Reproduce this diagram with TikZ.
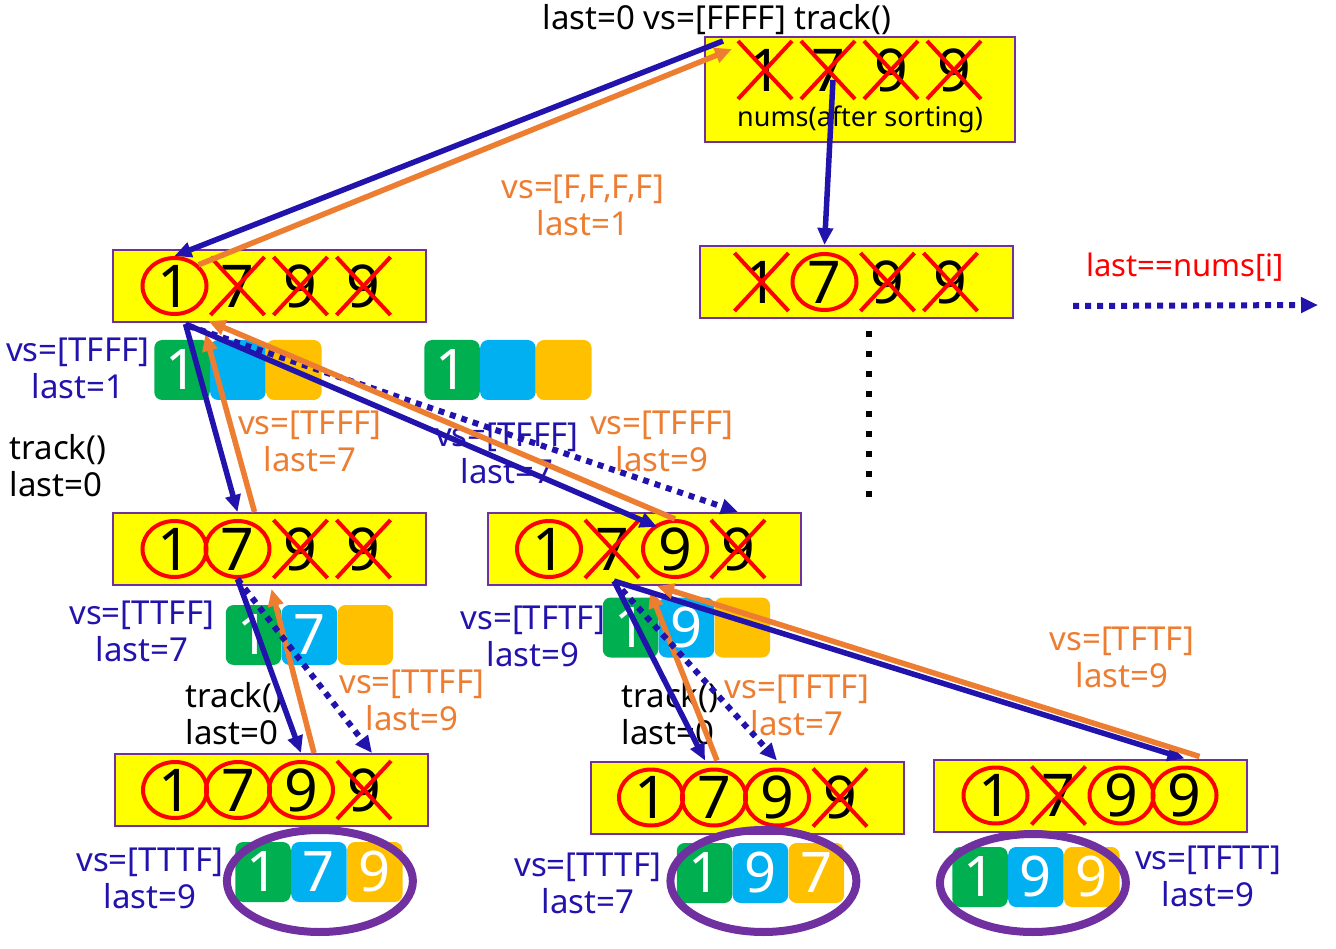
\documentclass[tikz,border=0pt]{standalone}
\usepackage{fontspec}
\setmainfont{Noto Sans}
\usepackage{tikz}
\usetikzlibrary{
  arrows.meta,
  shapes.geometric,
  shapes.misc,
  positioning,
  calc
}
\definecolor{btBlue}{HTML}{2313AD}
\definecolor{btOrange}{HTML}{ED7D31}
\definecolor{btPurple}{HTML}{7030A0}
\definecolor{btRed}{HTML}{FF0000}
\definecolor{btYellow}{HTML}{FFFF00}
\definecolor{btGreen}{HTML}{00B050}
\definecolor{btSky}{HTML}{00B0F0}
\definecolor{btGold}{HTML}{FFC000}
\tikzset{
  numbox/.style={
    draw=btPurple, fill=btYellow, line width=2pt, inner sep=0pt,
    minimum width=313pt, minimum height=72pt
  },
  digit/.style={inner sep=0pt, font=\fontsize{59}{60}\selectfont},
  marko/.style={draw=btRed, ellipse, line width=4pt, inner sep=0pt, minimum width=64pt, minimum height=56pt},
  markx/.style={draw=btRed, cross out, line width=4pt, inner sep=0pt, minimum width=50pt, minimum height=54pt},
  tile/.style={
    rounded corners=8pt, inner sep=0pt, minimum width=55.5pt, minimum height=60pt,
    text=white, font=\fontsize{56}{56}\selectfont\bfseries
  },
  resultring/.style={draw=btPurple, ellipse, line width=8pt, minimum width=186pt, minimum height=102pt},
  lbl/.style={font=\fontsize{33}{37}\selectfont, align=center, inner sep=0pt},
  calllbl/.style={lbl, text=btBlue},
  backlbl/.style={lbl, text=btOrange},
  callarrow/.style={-{Triangle[length=17pt,width=15pt]}, line width=5.5pt, btBlue},
  backarrow/.style={-{Triangle[length=17pt,width=15pt]}, line width=5.5pt, btOrange},
  skiparrow/.style={-{Triangle[length=17pt,width=15pt]}, line width=6pt, btBlue, dash pattern=on 6pt off 6pt},
  moredots/.style={line width=6pt, black, dash pattern=on 6pt off 14pt}
}

\begin{document}
\begin{tikzpicture}[x=1pt, y=-1pt]
  \useasboundingbox (0,0) rectangle (1336,949);

  \node[numbox, minimum width=310pt, minimum height=105pt] (top) at (860,89.5) {};
  \foreach \d/\m [count=\i from 0] in {1/x,7/x,9/x,9/x} {
    \node[digit] (top-\i) at ($(top.center)+({-95+63*\i},-19.5)$) {\d};
    \node[mark\m] (top-\i-mk) at (top-\i) {};
  }
  \node[lbl, font=\fontsize{27}{30}\selectfont] (topcap) at ($(top.center)+(0,29.5)$) {nums(after sorting)};

  \node[numbox] (l1) at (269.5,286) {};
  \foreach \d/\m [count=\i from 0] in {1/o,7/x,9/x,9/x} {
    \node[digit] (l1-\i) at ($(l1.center)+({-95+63*\i},0)$) {\d};
    \node[mark\m] (l1-\i-mk) at (l1-\i) {};
  }
  \node[numbox] (r1) at (856.5,282) {};
  \foreach \d/\m [count=\i from 0] in {1/x,7/o,9/x,9/x} {
    \node[digit] (r1-\i) at ($(r1.center)+({-95+63*\i},0)$) {\d};
    \node[mark\m] (r1-\i-mk) at (r1-\i) {};
  }
  \node[numbox] (l2) at (269.5,549) {};
  \foreach \d/\m [count=\i from 0] in {1/o,7/o,9/x,9/x} {
    \node[digit] (l2-\i) at ($(l2.center)+({-95+63*\i},0)$) {\d};
    \node[mark\m] (l2-\i-mk) at (l2-\i) {};
  }
  \node[numbox] (m2) at (644,549) {};
  \foreach \d/\m [count=\i from 0] in {1/o,7/x,9/o,9/x} {
    \node[digit] (m2-\i) at ($(m2.center)+({-95+63*\i},0)$) {\d};
    \node[mark\m] (m2-\i-mk) at (m2-\i) {};
  }
  \node[numbox] (l3) at (271,790) {};
  \foreach \d/\m [count=\i from 0] in {1/o,7/o,9/o,9/x} {
    \node[digit] (l3-\i) at ($(l3.center)+({-96+63*\i},0)$) {\d};
    \node[mark\m] (l3-\i-mk) at (l3-\i) {};
  }
  \node[numbox] (m3) at (747,797.5) {};
  \foreach \d/\m [count=\i from 0] in {1/o,7/o,9/o,9/x} {
    \node[digit] (m3-\i) at ($(m3.center)+({-96+63*\i},0)$) {\d};
    \node[mark\m] (m3-\i-mk) at (m3-\i) {};
  }
  \node[numbox] (r3) at (1090.5,795.5) {};
  \foreach \d/\m [count=\i from 0] in {1/o,7/x,9/o,9/o} {
    \node[digit] (r3-\i) at ($(r3.center)+({-95+63*\i},0)$) {\d};
    \node[mark\m] (r3-\i-mk) at (r3-\i) {};
  }

  \node[tile, fill=btGreen] (ta1) at (182,370) {1};
  \node[tile, fill=btSky, right=0pt of ta1] (ta2) {};
  \node[tile, fill=btGold, right=0pt of ta2] (ta3) {};
  \node[tile, fill=btGreen] (tb1) at (452,370) {1};
  \node[tile, fill=btSky, right=0pt of tb1] (tb2) {};
  \node[tile, fill=btGold, right=0pt of tb2] (tb3) {};
  \node[tile, fill=btGreen] (tc1) at (253.5,635) {1};
  \node[tile, fill=btSky, right=0pt of tc1] (tc2) {7};
  \node[tile, fill=btGold, right=0pt of tc2] (tc3) {};
  \node[tile, fill=btGreen] (td1) at (630.5,627.5) {1};
  \node[tile, fill=btSky, right=0pt of td1] (td2) {9};
  \node[tile, fill=btGold, right=0pt of td2] (td3) {};
  \node[tile, fill=btGreen] (te1) at (263,872) {1};
  \node[tile, fill=btSky, right=0pt of te1] (te2) {7};
  \node[tile, fill=btGold, right=0pt of te2] (te3) {9};
  \node[tile, fill=btGreen] (tf1) at (704.5,873) {1};
  \node[tile, fill=btSky, right=0pt of tf1] (tf2) {9};
  \node[tile, fill=btGold, right=0pt of tf2] (tf3) {7};
  \node[tile, fill=btGreen] (tg1) at (980,877) {1};
  \node[tile, fill=btSky, right=0pt of tg1] (tg2) {9};
  \node[tile, fill=btGold, right=0pt of tg2] (tg3) {9};

  \node[resultring] (ringE) at ($(te2)+(1,9)$) {};
  \node[resultring] (ringF) at ($(tf2)+(3,8)$) {};
  \node[resultring, minimum height=98pt] (ringG) at ($(tg2)+(-3,6)$) {};

  \node[lbl] (trackTop) at (717,20) {last=0 vs=[FFFF] track()};
  \node[backlbl] (vsRoot) at (583,205) {vs=[F,F,F,F]\\last=1};
  \node[lbl, text=btRed, font=\fontsize{31}{35}\selectfont] (legend) at (1185,267) {last==nums[i]};
  \node[calllbl] (vsL1) at (78,368) {vs=[TFFF]\\last=1};
  \node[lbl, align=left] (trL1) at (58,466) {track()\\last=0};
  \node[backlbl] (vsL2back) at (310,441) {vs=[TFFF]\\last=7};
  \node[calllbl] (vsM2call) at (507,453) {vs=[TFFF]\\last=7};
  \node[backlbl] (vsM2back) at (662,441) {vs=[TFFF]\\last=9};
  \node[calllbl] (vsL2) at (142,631) {vs=[TTFF]\\last=7};
  \node[lbl, align=left] (trL2) at (234,714) {track()\\last=0};
  \node[backlbl] (vsL3back) at (412,700) {vs=[TTFF]\\last=9};
  \node[calllbl] (vsM2) at (533,636) {vs=[TFTF]\\last=9};
  \node[lbl, align=left] (trM2) at (670,714) {track()\\last=0};
  \node[backlbl] (vsM3back) at (797,705) {vs=[TFTF]\\last=7};
  \node[backlbl] (vsR3back) at (1122,657) {vs=[TFTF]\\last=9};
  \node[calllbl] (vsL3) at (150,878) {vs=[TTTF]\\last=9};
  \node[calllbl] (vsM3) at (588,883) {vs=[TTTF]\\last=7};
  \node[calllbl] (vsR3) at (1208,876) {vs=[TFTT]\\last=9};

  \draw[skiparrow] ($(legend)+(-112,39)$) -- ($(legend)+(133,38)$);
  \draw[moredots] ($(r1.south)+(12.5,12)$) -- ($(r1.south)+(12.5,178)$);

  \draw[callarrow] ([xshift=19pt,yshift=-5pt]top.north west) -- (l1-0-mk.north);
  \draw[backarrow] (l1-0-mk.north east) -- ([xshift=28pt,yshift=-13pt]top.north west);
  \draw[callarrow] ([xshift=5pt,yshift=-10pt]top-1.center) -- (r1-1 |- r1.north);

  \coordinate (l1-hub) at ($(l1-0 |- l1.south)+(11,1)$);
  \draw[callarrow] (l1-hub) -- (l2-1 |- l2.north);
  \draw[backarrow] ($(l2-1 |- l2.north)+(17,0)$) -- ($(l1-0 |- l1.south)+(31,11)$);
  \draw[skiparrow] ($(l1-hub)+(3,2)$) -- (m2-3 |- m2.north);
  \draw[backarrow] (m2-2-mk.north) -- ($(l1-0 |- l1.south)+(34,-2)$);
  \draw[callarrow] (l1-hub) -- ($(m2-2-mk.north west)+(6,-1)$);

  \draw[callarrow] (l2-1-mk.south) -- (l3-2 |- l3.north);
  \draw[backarrow] ($(l3-2 |- l3.north)+(13,0)$) -- ($(l2-1 |- l2.south)+(34,3)$);
  \draw[skiparrow] (l2-1-mk.south) -- ($(l3-3 |- l3.north)+(8,0)$);

  \coordinate (m2-hub) at ($(m2-1 |- m2.south)+(2,-5)$);
  \draw[callarrow] (m2-hub) -- ($(m3-1 |- m3.north)+(-9,0)$);
  \draw[backarrow] ($(m3-1 |- m3.north)+(3,0)$) -- ($(m2-1 |- m2.south)+(38,5)$);
  \draw[skiparrow] (m2-hub) -- (m3-2 |- m3.north);
  \draw[callarrow] (m2-hub) -- (r3-3 |- r3.north);
  \draw[backarrow] ($(r3-3 |- r3.north)+(15,-2)$) -- ($(m2-1 |- m2.south)+(45,0)$);
\end{tikzpicture}
\end{document}
